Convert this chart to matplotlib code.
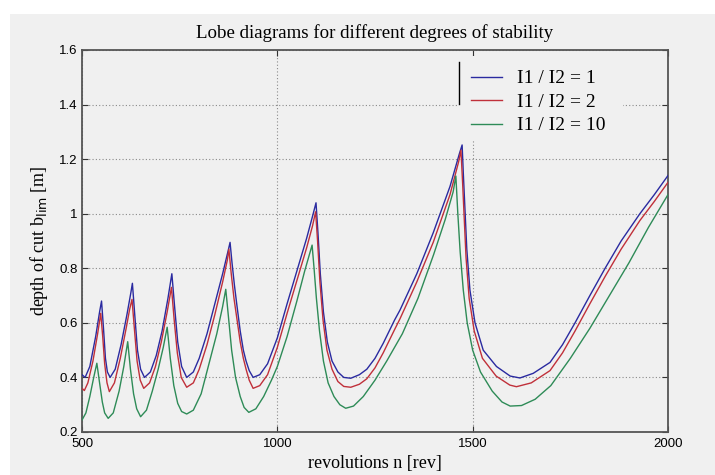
import numpy as np
import matplotlib
matplotlib.use("Agg")
import matplotlib.pyplot as plt
from matplotlib.patches import Rectangle

# revolutions n [rev] and depth of cut b_lim [m]
n_blue = [500, 508, 520, 535, 545, 550, 555, 560, 565, 572, 585, 600, 615, 625, 629,
          635, 642, 650, 660, 675, 690, 705, 720, 730, 737, 745, 755, 768, 785, 800,
          820, 840, 860, 875, 879, 884, 890, 896, 905, 913, 920, 928, 938, 955, 975,
          1000, 1025, 1050, 1075, 1090, 1099, 1104, 1110, 1118, 1128, 1140, 1155, 1170,
          1188, 1210, 1229, 1250, 1271, 1300, 1314, 1357, 1399, 1442, 1466, 1473, 1476,
          1485, 1493, 1506, 1527, 1561, 1596, 1621, 1655, 1698, 1730, 1762, 1800, 1839,
          1880, 1928, 1965, 2000]
b_blue = [0.41, 0.40, 0.44, 0.55, 0.64, 0.68, 0.58, 0.47, 0.42, 0.40, 0.43, 0.52, 0.63, 0.71, 0.745,
          0.63, 0.50, 0.43, 0.40, 0.42, 0.48, 0.57, 0.69, 0.78, 0.66, 0.53, 0.44, 0.40, 0.42, 0.47,
          0.56, 0.67, 0.78, 0.87, 0.895, 0.82, 0.74, 0.67, 0.57, 0.50, 0.46, 0.425, 0.40, 0.41, 0.45,
          0.545, 0.67, 0.79, 0.91, 0.99, 1.04, 0.93, 0.78, 0.64, 0.53, 0.46, 0.42, 0.40,
          0.397, 0.41, 0.43, 0.47, 0.525, 0.61, 0.647, 0.78, 0.93, 1.10, 1.22, 1.252, 1.15,
          0.87, 0.72, 0.60, 0.50, 0.44, 0.405, 0.398, 0.415, 0.455, 0.52, 0.60, 0.70, 0.80,
          0.90, 1.00, 1.07, 1.14]

n_red = [500, 506, 515, 528, 540, 548, 553, 558, 564, 570, 583, 598, 613, 622, 628,
         634, 641, 649, 658, 673, 688, 703, 718, 729, 736, 744, 754, 768, 785, 800,
         820, 840, 860, 872, 876, 882, 889, 896, 905, 913, 920, 928, 938, 955, 975,
         1000, 1025, 1050, 1075, 1090, 1098, 1103, 1109, 1117, 1127, 1140, 1155, 1170,
         1188, 1210, 1229, 1250, 1271, 1300, 1314, 1357, 1399, 1442, 1464, 1470, 1474,
         1483, 1491, 1504, 1525, 1560, 1595, 1612, 1650, 1698, 1730, 1762, 1800, 1839,
         1880, 1928, 1965, 2000]
b_red = [0.36, 0.352, 0.38, 0.46, 0.56, 0.635, 0.55, 0.45, 0.38, 0.348, 0.38, 0.47, 0.58, 0.65, 0.686,
         0.58, 0.46, 0.39, 0.36, 0.38, 0.44, 0.53, 0.64, 0.73, 0.61, 0.49, 0.40, 0.364, 0.38, 0.43,
         0.52, 0.63, 0.75, 0.83, 0.87, 0.78, 0.69, 0.62, 0.53, 0.47, 0.43, 0.39, 0.36, 0.37, 0.41,
         0.51, 0.635, 0.755, 0.875, 0.955, 1.007, 0.90, 0.75, 0.61, 0.50, 0.43, 0.385, 0.367,
         0.364, 0.375, 0.395, 0.435, 0.49, 0.575, 0.615, 0.75, 0.895, 1.07, 1.19, 1.233, 1.12,
         0.84, 0.69, 0.57, 0.47, 0.405, 0.372, 0.366, 0.38, 0.425, 0.49, 0.57, 0.67, 0.77,
         0.87, 0.975, 1.045, 1.115]

n_green = [500, 510, 520, 530, 538, 545, 552, 558, 567, 580, 595, 607, 617, 624, 632,
           640, 650, 665, 680, 695, 708, 718, 726, 735, 745, 755, 768, 785, 805, 825,
           845, 860, 868, 875, 883, 893, 905, 915, 927, 945, 965, 985, 1000, 1025, 1050,
           1070, 1082, 1089, 1094, 1100, 1108, 1118, 1130, 1145, 1160, 1175, 1195, 1220,
           1250, 1280, 1320, 1360, 1400, 1430, 1450, 1457, 1462, 1468, 1476, 1486, 1500,
           1520, 1550, 1575, 1596, 1625, 1660, 1700, 1750, 1800, 1850, 1900, 1950, 2000]
b_green = [0.244, 0.27, 0.33, 0.40, 0.452, 0.38, 0.31, 0.27, 0.25, 0.27, 0.35, 0.44, 0.531, 0.43, 0.34,
           0.285, 0.256, 0.28, 0.35, 0.43, 0.51, 0.584, 0.47, 0.37, 0.305, 0.275, 0.266, 0.28, 0.34, 0.45,
           0.56, 0.66, 0.723, 0.62, 0.50, 0.40, 0.33, 0.29, 0.272, 0.285, 0.33, 0.39, 0.44, 0.55, 0.68,
           0.79, 0.85, 0.885, 0.80, 0.69, 0.57, 0.46, 0.38, 0.33, 0.30, 0.287, 0.295, 0.33,
           0.39, 0.46, 0.56, 0.69, 0.85, 0.98, 1.08, 1.138, 1.00, 0.86, 0.72, 0.60, 0.50,
           0.42, 0.35, 0.31, 0.295, 0.297, 0.32, 0.37, 0.47, 0.58, 0.70, 0.82, 0.95, 1.07]

labels = ["I1 / I2 = 1", "I1 / I2 = 2", "I1 / I2 = 10"]
x_ticks = [500, 1000, 1500, 2000]
y_ticks = [0.2, 0.4, 0.6, 0.8, 1.0, 1.2, 1.4, 1.6]
y_ticklabels = ["0.2", "0.4", "0.6", "0.8", "1", "1.2", "1.4", "1.6"]

bg = "#f0f0f0"
serif = "Liberation Serif"
sans = "Liberation Sans"

fig = plt.figure(figsize=(7.15, 4.75), dpi=100, facecolor="white")
# grey window area, white strip at top and left
fig.patches.append(Rectangle((10 / 715, 0), 1, 1 - 14 / 475, transform=fig.transFigure,
                             facecolor=bg, edgecolor="none", zorder=-10))
ax = fig.add_axes([82 / 715, 1 - 432 / 475, 586 / 715, 382 / 475])
ax.set_facecolor(bg)

ax.plot(n_blue, b_blue, color="#2a2aa0", lw=1.0, label=labels[0], zorder=3)
ax.plot(n_red, b_red, color="#c0303a", lw=1.0, label=labels[1], zorder=3)
ax.plot(n_green, b_green, color="#2e8b57", lw=1.0, label=labels[2], zorder=3)

ax.set_xlim(500, 2000)
ax.set_ylim(0.2, 1.6)
ax.set_xticks(x_ticks)
ax.set_xticklabels([str(v) for v in x_ticks])
ax.set_yticks(y_ticks)
ax.set_yticklabels(y_ticklabels)
ax.tick_params(direction="in", length=4, width=0.8, top=True, right=True,
               labelsize=9.5, colors="#333333", labelcolor="black")
ax.tick_params(axis="y", pad=3)
ax.tick_params(axis="x", pad=4)
for lab in ax.get_xticklabels() + ax.get_yticklabels():
    lab.set_family(sans)
ax.grid(True, color="#8a8a8a", lw=0.8, linestyle=(0, (1, 2)), zorder=1)
ax.set_axisbelow(True)
for s in ax.spines.values():
    s.set_color("#555555")
    s.set_linewidth(1.3)

ax.set_title("Lobe diagrams for different degrees of stability", family=serif,
             fontsize=13.6, pad=9)
ax.set_xlabel("revolutions n [rev]", family=serif, fontsize=13, labelpad=4)
ax.set_ylabel(r"depth of cut b$_{\mathrm{lim}}$ [m]", family=serif, fontsize=13, labelpad=7)

# legend area hides the grid, only a left edge is drawn
ax.add_patch(Rectangle((0.643, 0.764), 0.28, 0.221, transform=ax.transAxes,
                       facecolor=bg, edgecolor="none", zorder=2))
ax.plot([0.643, 0.643], [0.859, 0.969], transform=ax.transAxes, color="black", lw=1.0, zorder=4)
leg = ax.legend(loc="upper left", bbox_to_anchor=(0.664, 0.948), frameon=False,
                prop={"family": serif, "size": 14}, handlelength=1.6, handletextpad=0.75,
                labelspacing=0.3, borderpad=0, borderaxespad=0)

fig.savefig("out.png", dpi=100, facecolor=fig.get_facecolor())
